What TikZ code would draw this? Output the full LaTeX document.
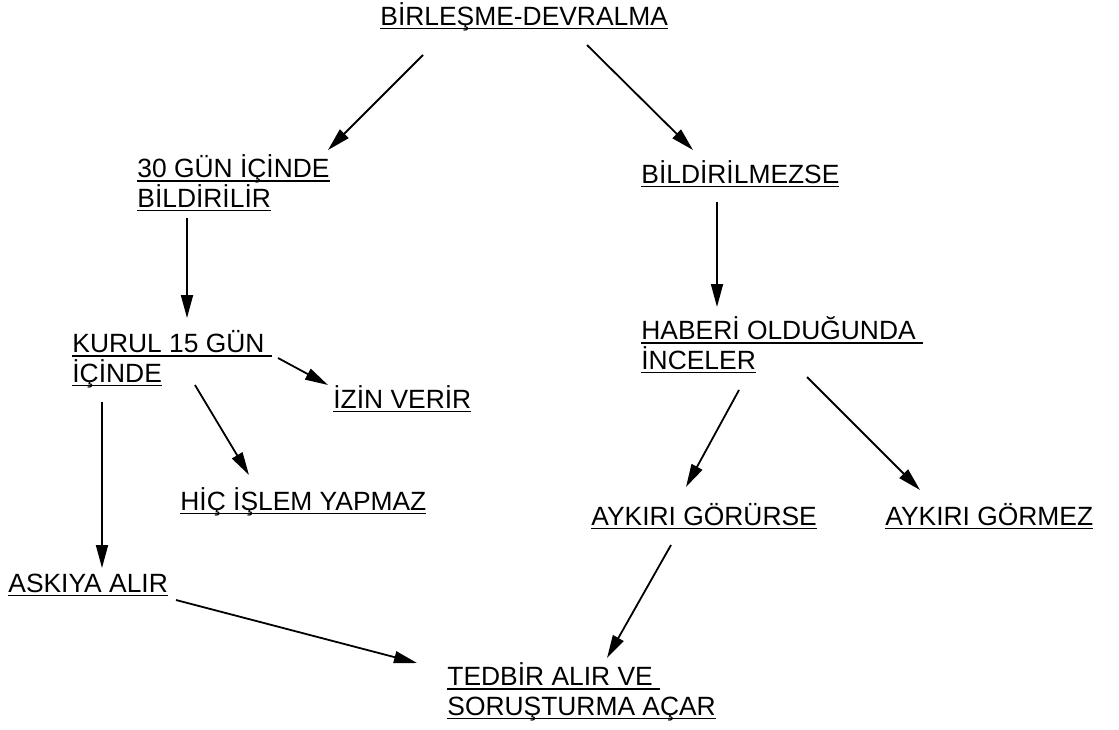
\documentclass[tikz,border=0pt]{standalone}
\usepackage{fontspec}
\setmainfont{Liberation Sans}
\usetikzlibrary{arrows.meta}

\newsavebox{\lblbox}
\newcommand{\lbl}[1]{\sbox{\lblbox}{#1}\rlap{\rule[-2.2pt]{\wd\lblbox}{0.9pt}}\usebox{\lblbox}}

\tikzset{
  item/.style={anchor=base west, inner sep=0pt, align=left,
    font=\fontsize{13.2}{14.6}\selectfont},
  arr/.style={-{Triangle[length=11.5pt,width=6pt]}, line width=0.9pt},
}

\begin{document}
\begin{tikzpicture}[x=0.5pt,y=-0.5pt]
    \useasboundingbox (0,0) rectangle (1119,729);
    % headings
    \node[item] (merge) at (380,25) {\lbl{BİRLEŞME-DEVRALMA}};
    \node[item] (told) at (137,207) {\lbl{30 GÜN İÇİNDE}\\\lbl{BİLDİRİLİR}};
    \node[item] (untold) at (641,183) {\lbl{BİLDİRİLMEZSE}};
    % left branch
    \node[item] (board) at (72,382) {\lbl{KURUL 15 GÜN\ }\\\lbl{İÇİNDE}};
    \node[item] (permit) at (333,408) {\lbl{İZİN VERİR}};
    \node[item] (none) at (180,510) {\lbl{HİÇ İŞLEM YAPMAZ}};
    \node[item] (halt) at (8,592) {\lbl{ASKIYA ALIR}};
    % right branch
    \node[item] (review) at (641,369) {\lbl{HABERİ OLDUĞUNDA\ }\\\lbl{İNCELER}};
    \node[item] (breach) at (591,525) {\lbl{AYKIRI GÖRÜRSE}};
    \node[item] (clean) at (885,525) {\lbl{AYKIRI GÖRMEZ}};
    \node[item] (probe) at (447,715) {\lbl{TEDBİR ALIR VE\ }\\\lbl{SORUŞTURMA AÇAR}};

    \draw[arr] ([shift={(43,30)}]merge.base west) -- ([shift={(191,-57)}]told.base west);
    \draw[arr] ([shift={(207,20)}]merge.base west) -- ([shift={(52,-33)}]untold.base west);
    \draw[arr] ([shift={(50,11)}]told.base west) -- ([shift={(115,-64)}]board.base west);
    \draw[arr] ([shift={(76,19)}]untold.base west) -- ([shift={(76,-62)}]review.base west);
    \draw[arr] ([shift={(206,-24)}]board.base west) -- ([shift={(-5,-23)}]permit.base west);
    \draw[arr] ([shift={(123,3)}]board.base west) -- ([shift={(69,-35)}]none.base west);
    \draw[arr] ([shift={(30,20)}]board.base west) -- ([shift={(94,-24)}]halt.base west);
    \draw[arr] ([shift={(168,8)}]halt.base west) -- ([shift={(-30,-52)}]probe.base west);
    \draw[arr] ([shift={(80,20)}]breach.base west) -- ([shift={(160,-57)}]probe.base west);
    \draw[arr] ([shift={(98,21)}]review.base west) -- ([shift={(95,-38)}]breach.base west);
    \draw[arr] ([shift={(166,8)}]review.base west) -- ([shift={(35,-35)}]clean.base west);
\end{tikzpicture}
\end{document}
